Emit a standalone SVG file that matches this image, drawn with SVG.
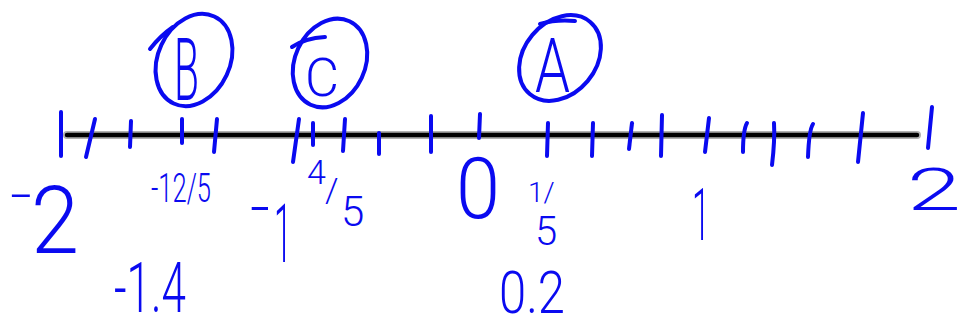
<svg xmlns="http://www.w3.org/2000/svg" width="963" height="331" viewBox="0 0 963 331">
<style>
.ink{fill:none;stroke:#0a0af0;stroke-width:4;stroke-linecap:round;stroke-linejoin:round}
.t{font-family:Roboto,"Liberation Sans",Arial,sans-serif;font-weight:300;fill:#0a0af0}
</style>
<rect width="963" height="331" fill="#ffffff"/>
<g id="axis">
<line x1="67" y1="135" x2="917" y2="135" stroke="#b0b0b0" stroke-width="8" stroke-linecap="round"/>
<line x1="67" y1="135" x2="917" y2="135" stroke="#000000" stroke-width="4.5" stroke-linecap="round"/>
</g>
<g id="ticks" class="ink">
<path d="M61,112 L61,156"/>
<path d="M95,119 L86,157"/>
<path d="M131,121 L130,147"/>
<path d="M182,119 L182,143"/>
<path d="M217,119 L214,152"/>
<path d="M299,119 L293,162"/>
<path d="M313,123 L313,145"/>
<path d="M345,119 L343,151"/>
<path d="M379,133 L379,154"/>
<path d="M431,116 L431,152"/>
<path d="M480,114 L479,138"/>
<path d="M548,123 L547,156"/>
<path d="M593,123 L592,156"/>
<path d="M632,123 L629,149"/>
<path d="M662,115 L661,156"/>
<path d="M709,118 L705,152"/>
<path d="M747,123 Q743,130 743,152"/>
<path d="M774,123 Q775,140 772,165"/>
<path d="M813,124 Q809,130 808,157"/>
<path d="M863,113 L858,162"/>
<path d="M932,107 L928,148"/>
</g>
<g id="nodeB">
<ellipse class="ink" cx="194" cy="60" rx="36" ry="48" transform="rotate(25 194 60)"/>
<path class="ink" d="M150,49 Q160,36 173,27"/>
<text class="t" x="174" y="100" font-size="87" textLength="25" lengthAdjust="spacingAndGlyphs">B</text>
</g>
<g id="nodeC">
<ellipse class="ink" cx="330" cy="63" rx="35" ry="46" transform="rotate(25 330 63)"/>
<path class="ink" d="M292,47 Q305,38 325,37"/>
<text class="t" x="305" y="96" font-size="54" textLength="34" lengthAdjust="spacingAndGlyphs">C</text>
</g>
<g id="nodeA">
<ellipse class="ink" cx="560" cy="58" rx="36" ry="47" transform="rotate(40 560 58)"/>
<path class="ink" d="M540,24 Q557,19 575,21"/>
<text class="t" x="535" y="92" font-size="76" textLength="35" lengthAdjust="spacingAndGlyphs">A</text>
</g>
<g id="labels">
<text class="t"><tspan x="10" y="211" font-size="50" textLength="22" lengthAdjust="spacingAndGlyphs">-</tspan><tspan x="31" y="253" font-size="94" textLength="48" lengthAdjust="spacingAndGlyphs">2</tspan></text>
<text class="t" x="151" y="202" font-size="40" textLength="60" lengthAdjust="spacingAndGlyphs">-12/5</text>
<text class="t" x="114" y="312" font-size="70" textLength="72" lengthAdjust="spacingAndGlyphs">-1.4</text>
<text class="t"><tspan x="250" y="227" font-size="60" textLength="20" lengthAdjust="spacingAndGlyphs">-</tspan><tspan x="274" y="262" font-size="82" textLength="18" lengthAdjust="spacingAndGlyphs">1</tspan></text>
<text class="t"><tspan x="307" y="184" font-size="34">4</tspan><tspan x="325" y="202" font-size="34">/</tspan><tspan x="341" y="226" font-size="42">5</tspan></text>
<text class="t" x="456" y="218" font-size="85" textLength="44" lengthAdjust="spacingAndGlyphs">0</text>
<text class="t"><tspan x="528" y="202" font-size="28">1/</tspan><tspan x="535" y="245" font-size="40">5</tspan></text>
<text class="t" x="499" y="313" font-size="60" textLength="66" lengthAdjust="spacingAndGlyphs">0.2</text>
<text class="t" x="692" y="240" font-size="72" textLength="18" lengthAdjust="spacingAndGlyphs">1</text>
<text class="t" x="907" y="210" font-size="60" textLength="54" lengthAdjust="spacingAndGlyphs">2</text>
</g>
</svg>
